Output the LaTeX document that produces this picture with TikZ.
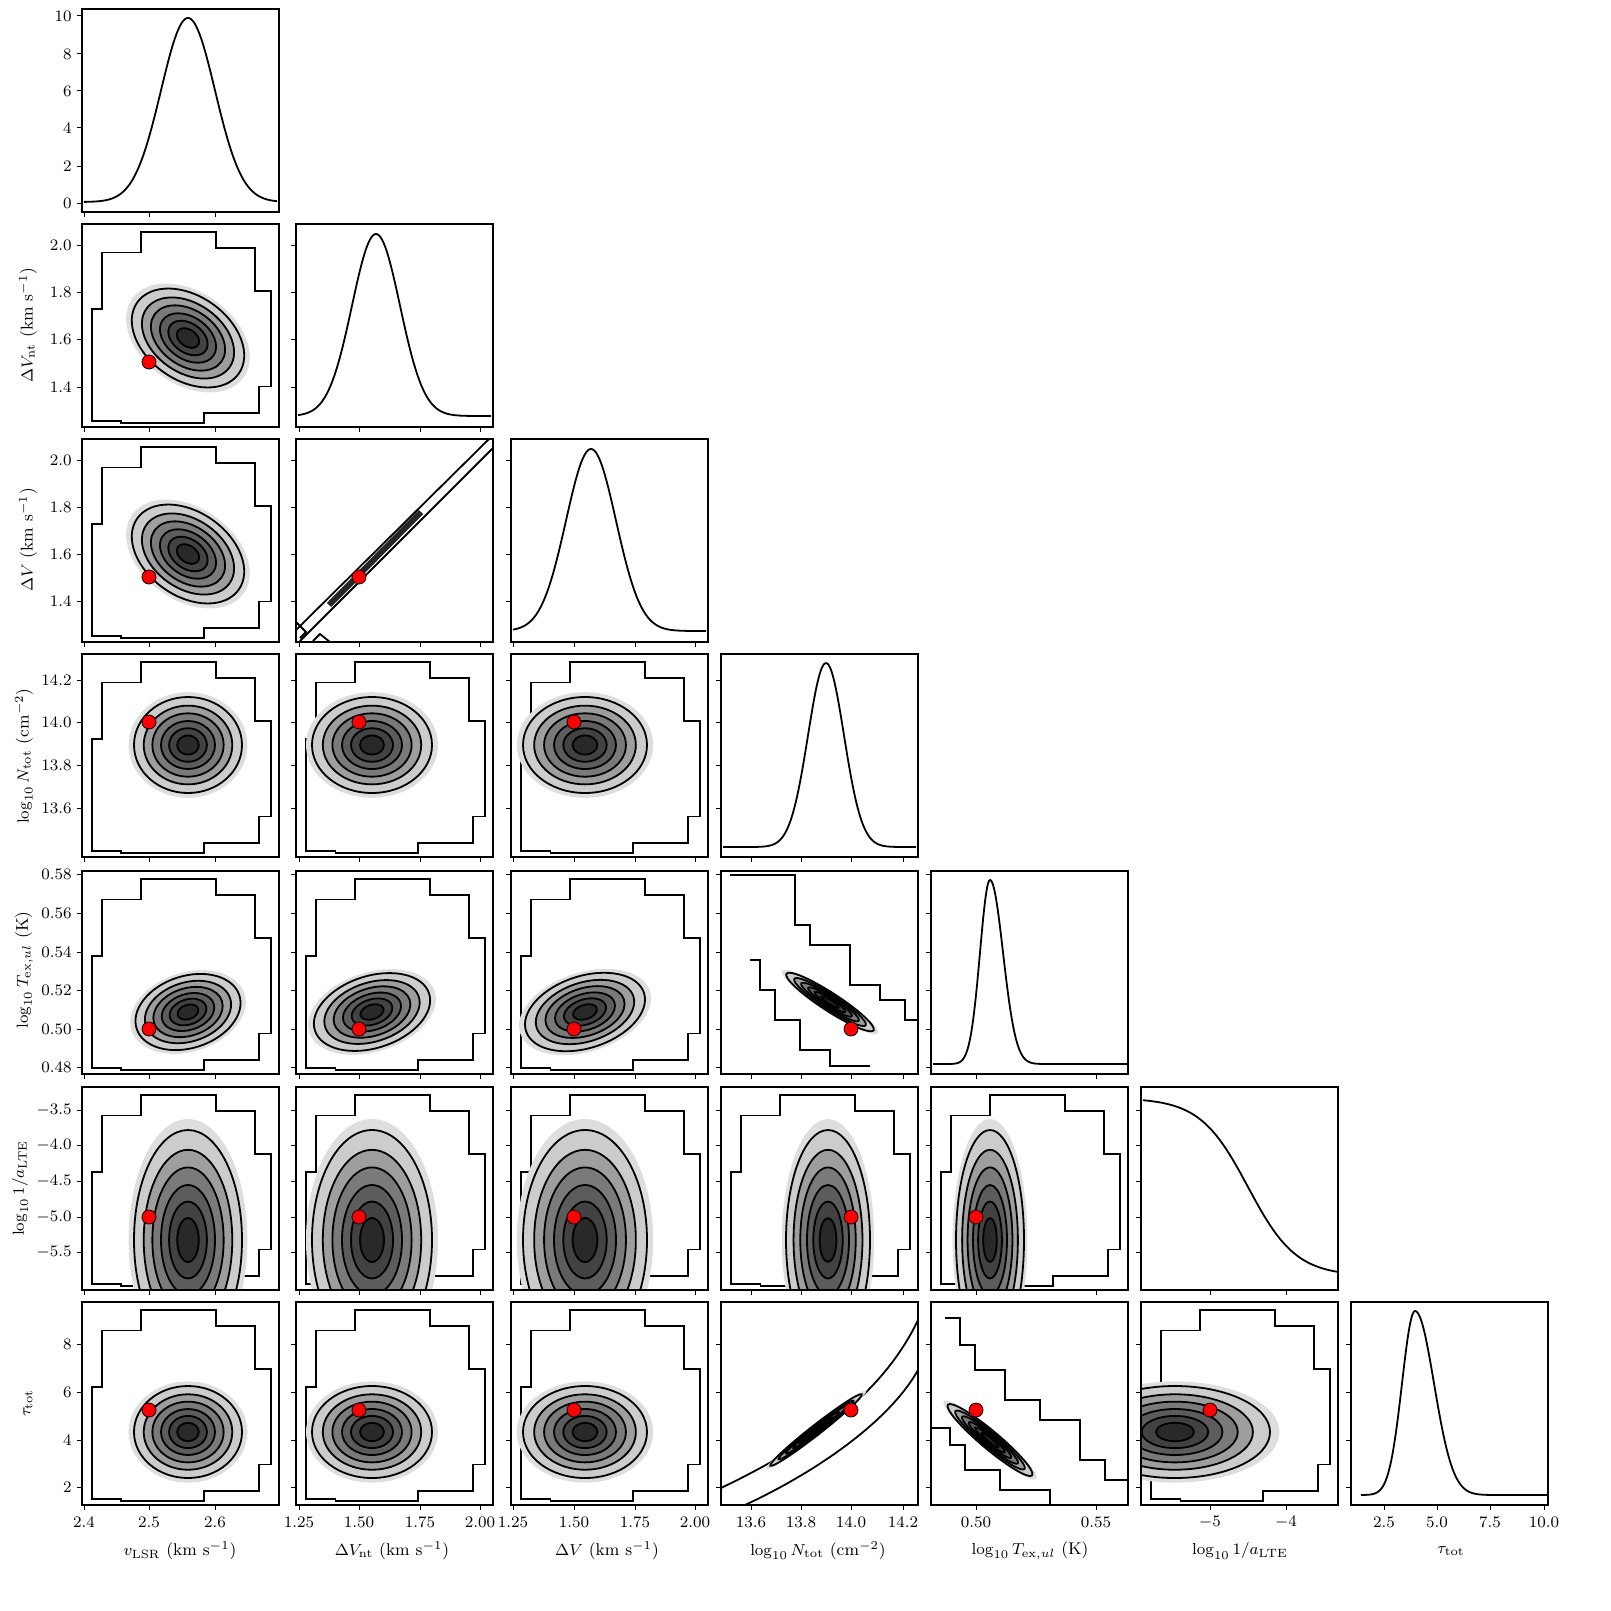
\documentclass[tikz,border=0pt]{standalone}
\usepackage{amsmath}
\tikzset{
  frame/.style={line width=0.6pt},
  tickmark/.style={line width=0.5pt},
  ticklab/.style={font=\fontsize{8}{9}\selectfont, inner sep=1pt},
  axlab/.style={font=\fontsize{8.5}{10}\selectfont, inner sep=1pt},
  contour/.style={line width=0.9pt},
  curve/.style={line width=0.9pt},
}
% nested density levels: centre x, centre y, radius x, radius y, rotation
\newcommand\blob[5]{%
  \begin{scope}[rotate around={#5:(#1,#2)}]
    \fill[black!13] (#1,#2) ellipse ({#3*1.1} and {#4*1.1});
    \foreach \f/\g in {1/20,0.82/38,0.66/52,0.5/64,0.35/74,0.2/84}{
      \fill[black!\g] (#1,#2) ellipse ({#3*\f} and {#4*\f});
      \draw[contour] (#1,#2) ellipse ({#3*\f} and {#4*\f});
    }
  \end{scope}}
% rough outer step contour inside a panel
\newcommand\stairs[2]{%
  \begin{scope}[shift={(#1,#2)}, xscale=197, yscale=203]
    \draw[contour] (0.05,0.97)--(0.05,0.42)--(0.1,0.42)--(0.1,0.14)--(0.3,0.14)--(0.3,0.04)--(0.68,0.04)
      --(0.68,0.12)--(0.88,0.12)--(0.88,0.33)--(0.96,0.33)--(0.96,0.8)--(0.9,0.8)--(0.9,0.93)--(0.62,0.93)
      --(0.62,0.98)--(0.2,0.98)--(0.2,0.97)--cycle;
  \end{scope}}
\begin{document}
\begin{tikzpicture}[x=0.5pt,y=-0.5pt]
\useasboundingbox (0,0) rectangle (1611,1611);

% off-diagonal panels
\foreach \r in {2,...,7}{
  \pgfmathtruncatemacro\cm{\r-1}
  \foreach \c in {1,...,\cm}{
    \pgfmathsetmacro\xa{{82,296,511,721,931,1141,1351}[\c-1]}
    \pgfmathsetmacro\ya{{9,224,439,654,871,1087,1302}[\r-1]}
    \pgfmathsetmacro\mx{{188,372,585,828,990,1175}[\c-1]}
    \pgfmathsetmacro\rx{\r<4 ? 62 : {54,60,62,42,34,95}[\c-1]}
    \pgfmathsetmacro\my{{0,338,554,745,1012,1240,1432}[\r-1]}
    \pgfmathsetmacro\ry{{0,42,42,48,36,110,46}[\r-1]}
    \pgfmathsetmacro\rot{\r==5 ? 18 : (\r==2 || \r==3 ? -35 : 0)}
    \pgfmathtruncatemacro\sp{(\r==3&&\c==2)||(\r==5&&\c==4)||(\r==7&&\c==4)||(\r==7&&\c==5)}
    \begin{scope}
      \clip (\xa,\ya) rectangle ++(197,203);
      \ifnum\sp=0
        \stairs{\xa}{\ya}
        \blob{\mx}{\my}{\rx}{\ry}{\rot}
      \fi
    \end{scope}
  }
}

% special panels
\begin{scope}
  \clip (296,439) rectangle ++(197,203);
  \draw[contour] (296,630)--(489,439);
  \draw[contour] (300,641)--(493,448);
  \draw[line width=3pt, black!85] (329,605)--(421,512);
  \draw[contour] (296,622)--(306,632)--(300,638);
  \draw[contour] (313,641)--(320,634)--(330,642);
\end{scope}
\begin{scope}
  \clip (721,871) rectangle ++(197,203);
  \draw[contour] (730,875)--(795,875)--(795,925)--(810,925)--(810,945)--(850,945)--(850,985)--(880,985)--(880,1000)--(905,1000)--(905,1020)--(918,1020);
  \draw[contour] (750,960)--(760,960)--(760,990)--(775,990)--(775,1020)--(800,1020)--(800,1050)--(830,1050)--(830,1066)--(870,1066);
  \blob{830}{1002}{52}{9}{-33}
\end{scope}
\begin{scope}
  \clip (721,1302) rectangle ++(197,203);
  \draw[contour] (721,1488) .. controls (800,1450) and (880,1400) .. (918,1320);
  \draw[contour] (745,1505) .. controls (820,1470) and (890,1420) .. (918,1370);
  \blob{816}{1430}{58}{5}{38}
\end{scope}
\begin{scope}
  \clip (931,1302) rectangle ++(197,203);
  \draw[contour] (945,1318)--(960,1318)--(960,1345)--(975,1345)--(975,1370)--(1005,1370)--(1005,1400)--(1040,1400)--(1040,1420)--(1080,1420)--(1080,1460)--(1105,1460)--(1105,1480)--(1129,1480);
  \draw[contour] (931,1428)--(950,1428)--(950,1445)--(965,1445)--(965,1470)--(1000,1470)--(1000,1490)--(1050,1490)--(1050,1505);
  \blob{990}{1440}{55}{9}{-40}
\end{scope}

% diagonal curves
\draw[curve] plot[domain=84:277,samples=120,smooth] (\x,{202-184*exp(-((\x-188)/27)^2/2)});
\draw[curve] plot[domain=298:491,samples=120,smooth] (\x,{416-182*exp(-((\x-376)/24)^2/2)});
\draw[curve] plot[domain=513:706,samples=120,smooth] (\x,{631-182*exp(-((\x-591)/25)^2/2)});
\draw[curve] plot[domain=723:916,samples=120,smooth] (\x,{847-184*exp(-((\x-826)/18)^2/2)});
\draw[curve] plot[domain=933:1127,samples=160,smooth] (\x,{1064-184*exp(-((\x-990)/(\x<990 ? 10 : 13))^2/2)});
\draw[curve] plot[domain=1143:1337,samples=120,smooth] (\x,{1098+178/(1+exp(-(\x-1248)/24))});
\draw[curve] plot[domain=1361:1547,samples=160,smooth] (\x,{1495-184*exp(-((\x-1415)/(\x<1415 ? 13 : 19))^2/2)});

% panel frames
\foreach \r in {1,...,7}{
  \foreach \c in {1,...,\r}{
    \pgfmathsetmacro\xa{{82,296,511,721,931,1141,1351}[\c-1]}
    \pgfmathsetmacro\ya{{9,224,439,654,871,1087,1302}[\r-1]}
    \draw[frame] (\xa,\ya) rectangle ++(197,203);
  }
}

% truth markers
\foreach \r in {2,...,7}{
  \pgfmathtruncatemacro\cm{\r-1}
  \foreach \c in {1,...,\cm}{
    \pgfmathsetmacro\tx{{149,359,574,851,976,1210}[\c-1]}
    \pgfmathsetmacro\ty{{0,362,577,722,1029,1217,1410}[\r-1]}
    \fill[red, draw=black, line width=0.4pt] (\tx,\ty) circle (7);
  }
}

% bottom ticks
\foreach \c/\tk in {1/{84,149,215},2/{299,359,420,480},3/{513,574,635,695},4/{751,801,851,903},5/{976,1096},6/{1210,1286},7/{1384,1437,1490,1544}}{
  \foreach \r in {\c,...,7}{
    \pgfmathsetmacro\yb{{212,427,642,857,1074,1290,1505}[\r-1]}
    \foreach \x in \tk {\draw[tickmark] (\x,\yb) -- ++(0,5);}
  }
}
% left ticks
\foreach \r/\tk in {1/{16,54,91,128,166,203},2/{245,292,339,387},3/{460,507,554,601},4/{680,722,765,808},5/{874,913,952,990,1029,1067},6/{1110,1145,1181,1217,1252},7/{1344,1392,1440,1487}}{
  \foreach \c in {1,...,\r}{
    \pgfmathsetmacro\xl{{82,296,511,721,931,1141,1351}[\c-1]}
    \foreach \y in \tk {\draw[tickmark] (\xl,\y) -- ++(-5,0);}
  }
}

% tick labels, bottom row
\foreach \x/\l in {84/2.4,149/2.5,215/2.6,299/1.25,359/1.50,420/1.75,480/2.00,513/1.25,574/1.50,635/1.75,695/2.00,
  751/13.6,801/13.8,851/14.0,903/14.2,976/0.50,1096/0.55,1210/$-5$,1286/$-4$,1384/2.5,1437/5.0,1490/7.5,1544/10.0}
  \node[ticklab, anchor=north] at (\x,1514) {\l};
% tick labels, left column
\foreach \y/\l in {16/10,54/8,91/6,128/4,166/2,203/0,245/2.0,292/1.8,339/1.6,387/1.4,460/2.0,507/1.8,554/1.6,601/1.4,
  680/14.2,722/14.0,765/13.8,808/13.6,874/0.58,913/0.56,952/0.54,990/0.52,1029/0.50,1067/0.48,
  1110/$-3.5$,1145/$-4.0$,1181/$-4.5$,1217/$-5.0$,1252/$-5.5$,1344/8,1392/6,1440/4,1487/2}
  \node[ticklab, anchor=east] at (74,\y) {\l};

% axis labels
\node[axlab] at (180,1551) {$v_{\mathrm{LSR}}$ (km s$^{-1}$)};
\node[axlab] at (392,1551) {$\Delta V_{\mathrm{nt}}$ (km s$^{-1}$)};
\node[axlab] at (607,1551) {$\Delta V$ (km s$^{-1}$)};
\node[axlab] at (818,1551) {$\log_{10} N_{\mathrm{tot}}$ (cm$^{-2}$)};
\node[axlab] at (1030,1551) {$\log_{10} T_{\mathrm{ex},ul}$ (K)};
\node[axlab] at (1240,1551) {$\log_{10} 1/a_{\mathrm{LTE}}$};
\node[axlab] at (1451,1551) {$\tau_{\mathrm{tot}}$};
\node[axlab, rotate=90] at (28,325) {$\Delta V_{\mathrm{nt}}$ (km s$^{-1}$)};
\node[axlab, rotate=90] at (28,540) {$\Delta V$ (km s$^{-1}$)};
\node[axlab, rotate=90] at (24,756) {$\log_{10} N_{\mathrm{tot}}$ (cm$^{-2}$)};
\node[axlab, rotate=90] at (24,970) {$\log_{10} T_{\mathrm{ex},ul}$ (K)};
\node[axlab, rotate=90] at (20,1188) {$\log_{10} 1/a_{\mathrm{LTE}}$};
\node[axlab, rotate=90] at (28,1403) {$\tau_{\mathrm{tot}}$};
\end{tikzpicture}
\end{document}
